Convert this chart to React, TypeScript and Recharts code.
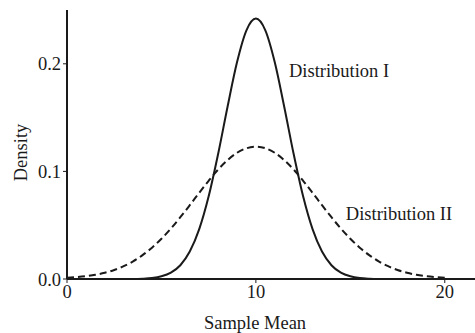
import { LineChart, Line, XAxis, YAxis, ReferenceDot } from "recharts";

// sample mean grid, 0 to 20 in steps of 0.5
const sampleMean = [
  0, 0.5, 1, 1.5, 2, 2.5, 3, 3.5, 4, 4.5, 5, 5.5, 6, 6.5, 7, 7.5, 8, 8.5, 9, 9.5,
  10, 10.5, 11, 11.5, 12, 12.5, 13, 13.5, 14, 14.5, 15, 15.5, 16, 16.5, 17, 17.5,
  18, 18.5, 19, 19.5, 20,
];

// Distribution I (solid)
const distI = [
  0, 0, 0, 0, 0, 0, 0.0001, 0.0001, 0.0003, 0.0009, 0.0025, 0.0059, 0.0128,
  0.0255, 0.0463, 0.0768, 0.1161, 0.1601, 0.2014, 0.2311, 0.242, 0.2311, 0.2014,
  0.1601, 0.1161, 0.0768, 0.0463, 0.0255, 0.0128, 0.0059, 0.0025, 0.0009, 0.0003,
  0.0001, 0.0001, 0, 0, 0, 0, 0, 0,
];

// Distribution II (dashed)
const distII = [
  0.0011, 0.0017, 0.0026, 0.0039, 0.0058, 0.0084, 0.0119, 0.0164, 0.0222, 0.0291,
  0.0374, 0.0469, 0.0574, 0.0686, 0.0801, 0.0913, 0.1017, 0.1105, 0.1173, 0.1215,
  0.123, 0.1215, 0.1173, 0.1105, 0.1017, 0.0913, 0.0801, 0.0686, 0.0574, 0.0469,
  0.0374, 0.0291, 0.0222, 0.0164, 0.0119, 0.0084, 0.0058, 0.0039, 0.0026, 0.0017,
  0.0011,
];

const xTicks = [0, 10, 20];
const yTicks = [0, 0.1, 0.2];

const data = sampleMean.map((x, i) => ({ x, d1: distI[i], d2: distII[i] }));

const font = "'Liberation Serif', 'DejaVu Serif', serif";
const ink = "#1a1a1a";

export default function App() {
  return (
    <div style={{ position: "absolute", left: 0, top: 0, background: "#fff" }}>
      <LineChart
        width={475}
        height={333}
        data={data}
        margin={{ top: 10, right: 0, bottom: 0, left: 0 }}
      >
        <XAxis
          dataKey="x"
          type="number"
          domain={[0, 21.6]}
          ticks={xTicks}
          height={54}
          tickSize={4}
          tick={{ fill: ink, fontSize: 18.5, fontFamily: font }}
          axisLine={{ stroke: ink, strokeWidth: 2 }}
          tickLine={{ stroke: ink }}
          label={{
            value: "Sample Mean",
            position: "insideBottom",
            offset: 4,
            dx: -16,
            fill: ink,
            fontSize: 18.5,
            fontFamily: font,
          }}
        />
        <YAxis
          type="number"
          domain={[0, 0.25]}
          ticks={yTicks}
          width={67}
          tickSize={4}
          tickFormatter={(v: number) => v.toFixed(1)}
          tick={{ fill: ink, fontSize: 18.5, fontFamily: font }}
          axisLine={{ stroke: ink, strokeWidth: 2 }}
          tickLine={{ stroke: ink }}
          label={{
            value: "Density",
            angle: -90,
            position: "insideLeft",
            offset: 20,
            dy: 8,
            style: { textAnchor: "middle" },
            fill: ink,
            fontSize: 18.5,
            fontFamily: font,
          }}
        />
        <Line
          dataKey="d1"
          type="monotone"
          stroke={ink}
          strokeWidth={2}
          dot={false}
          isAnimationActive={false}
        />
        <Line
          dataKey="d2"
          type="monotone"
          stroke={ink}
          strokeWidth={2}
          strokeDasharray="7 4"
          dot={false}
          isAnimationActive={false}
        />
        <ReferenceDot
          x={11.75}
          y={0.194}
          r={0}
          label={{
            value: "Distribution I",
            position: "right",
            offset: 0,
            fill: ink,
            fontSize: 18.5,
            fontFamily: font,
          }}
        />
        <ReferenceDot
          x={14.76}
          y={0.0614}
          r={0}
          label={{
            value: "Distribution II",
            position: "right",
            offset: 0,
            fill: ink,
            fontSize: 18.5,
            fontFamily: font,
          }}
        />
      </LineChart>
    </div>
  );
}
